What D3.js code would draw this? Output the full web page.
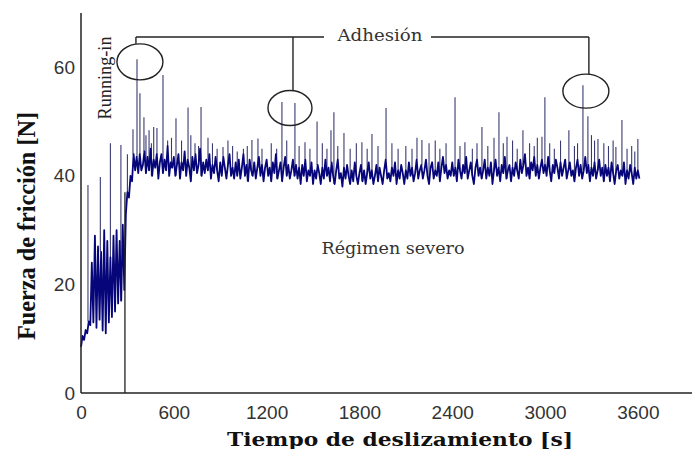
<!DOCTYPE html>
<html>
  <head>
    <meta charset="utf-8">
    <title>Fuerza de fricción</title>
    <script src="https://d3js.org/d3.v7.min.js"></script>
    <style>
      body { margin: 0; background: #fff; }
      svg { display: block; }
    </style>
  </head>
  <body>
    <div id="chart"></div>
    <script>
      // friction force, one reading every 10 s (0 .. 3610 s)
      var step = 10;
      var force = [
        8.5, 10.5, 9.8, 11.6, 11, 13.2, 12.5, 24, 13, 29, 12, 27, 13.5, 26, 11.5, 30, 11, 28, 13, 25,
        14, 29, 15, 30, 16.5, 28, 17, 31, 19, 33, 37, 36, 40, 39, 44, 41, 43.5, 40.5, 44, 41,
        42, 44.5, 40.5, 43.5, 41, 45, 40, 43, 41.5, 44, 39.5, 42.5, 44, 40.5, 43, 41, 45.5, 40, 42.5, 41.5,
        43.5, 40, 42, 44, 39.5, 42.5, 41, 44.5, 40, 43, 41.5, 39, 43.5, 41, 44, 40.5, 42, 45, 40, 42.5,
        40.5, 43, 41, 44, 39.5, 42, 40.5, 43.5, 41, 39, 42.5, 40, 43.5, 41.5, 39.5, 42, 44, 40, 41.5, 39.5,
        42.5, 40, 43, 39.5, 41.5, 44, 40, 42, 39, 43, 41, 40, 42.5, 39.5, 41.5, 43.5, 40, 42, 39, 41.5,
        43, 40, 41.5, 39, 42.5, 40.5, 44, 39.5, 41, 42.5, 39, 41.5, 43.5, 40, 42, 39.5, 41, 43, 40, 42,
        39.5, 41.5, 38.5, 42, 40, 43, 39, 41, 40, 42.5, 38.5, 41, 39.5, 42, 40.5, 38.5, 41.5, 39.5, 43, 40,
        41.5, 39, 42.5, 40, 38.5, 41, 43, 39.5, 40.5, 38, 41.5, 39.5, 42, 40, 38.5, 41, 39, 42.5, 40, 38.5,
        40.5, 42, 39, 41, 38.5, 40.5, 42.5, 39.5, 41, 38.5, 40, 42, 39, 41.5, 40, 38.5, 41, 43, 39.5, 40.5,
        39, 41.5, 40, 42.5, 38.5, 41, 39.5, 42, 40.5, 38.5, 41, 39.5, 42.5, 40, 41.5, 39, 40.5, 43, 39.5, 41,
        42, 39.5, 41, 43, 40, 38.5, 41.5, 42.5, 39.5, 41, 40, 42.5, 39, 41.5, 43.5, 40.5, 42, 39.5, 41, 40,
        42.5, 40, 41.5, 39, 43, 41, 39.5, 42, 40.5, 43.5, 39.5, 41, 42.5, 40, 38.5, 41.5, 43, 40, 41.5, 39.5,
        41, 43, 39.5, 41.5, 40, 42.5, 38.5, 41, 43, 40, 41.5, 39, 42, 40.5, 43.5, 39.5, 41, 42, 39, 41.5,
        40, 42.5, 41, 39.5, 43, 40.5, 42, 44, 40, 41.5, 39.5, 42.5, 41, 43.5, 40, 42, 39.5, 41.5, 43, 40.5,
        42, 40, 43.5, 41, 39, 42, 40.5, 43, 41.5, 39.5, 42.5, 40, 41.5, 43, 39.5, 41, 42.5, 40, 41, 39,
        41.5, 43, 40, 42, 39.5, 41, 43.5, 40.5, 42, 39, 41.5, 40, 42.5, 39.5, 41, 43, 40, 41.5, 39, 42,
        40, 41.5, 39, 42.5, 40.5, 38.5, 41, 42, 39.5, 41, 40, 42.5, 38.5, 41, 39.5, 42, 40.5, 38.5, 41.5, 39.5,
        41, 39.5
      ];
      // single-reading peaks [time s, force N]
      var peaks = [
        [45, 38.3], [125, 39.8], [190, 46], [258, 45.7],
        [336, 48.6], [362, 61.5], [381, 55.2], [407, 50.8], [440, 48.4], [491, 48.8],
        [530, 58.6], [614, 50.6], [692, 52.6], [737, 46], [776, 52.7], [821, 47],
        [918, 45.3], [980, 45.5], [1050, 45], [1105, 46.6], [1144, 46.9], [1299, 53.6],
        [1383, 53.4], [1448, 46.2], [1526, 50], [1616, 48.4], [1635, 51.7], [1700, 47.9],
        [1816, 46.2], [1881, 47.7], [1972, 52.5], [2172, 47], [2204, 46.6], [2360, 46],
        [2418, 54.5], [2482, 46.2], [2592, 49], [2702, 51.7], [2754, 47.2], [2857, 48.4],
        [2980, 47.2], [2999, 54.5], [3154, 48.4], [3245, 56.7], [3277, 51], [3342, 46.8],
        [3458, 45.3], [3497, 50.3], [3600, 46.8]
      ];
      // smaller spikes riding on the band
      var minorPeaks = [
        [300, 44], [420, 47.5], [455, 46], [470, 49], [560, 46.5], [585, 47], [650, 46.5],
        [710, 47.5], [760, 45.5], [850, 46], [880, 45], [950, 46.5], [1010, 44.5], [1075, 45.5],
        [1170, 45], [1230, 46], [1265, 45], [1330, 46.5], [1410, 45.5], [1480, 45], [1560, 46],
        [1590, 45], [1660, 45.5], [1740, 45], [1780, 46], [1850, 45], [1920, 45.5], [2010, 46],
        [2050, 45], [2100, 45.5], [2140, 45], [2250, 46], [2290, 46.5], [2320, 45], [2450, 45.5],
        [2530, 45], [2560, 46], [2630, 45.5], [2670, 47], [2730, 46], [2790, 46.5], [2820, 45],
        [2900, 46], [2930, 45.5], [2950, 47], [3030, 46], [3060, 45], [3100, 46.5], [3190, 45.5],
        [3210, 46], [3300, 47.5], [3320, 46.5], [3380, 46], [3410, 45.5], [3440, 46.5], [3530, 45],
        [3560, 45.5], [3580, 44.5]
      ];
      var xTicks = [0, 600, 1200, 1800, 2400, 3000, 3600];
      var yTicks = [0, 20, 40, 60];
      var runInEnd = 284;
      // adhesion marks: circle centre [time, force]
      var adhesion = [[381, 61], [1351, 52.5], [3264, 55.6]];

      var width = 692, height = 449;
      var svg = d3.select("#chart").append("svg")
        .attr("width", width)
        .attr("height", height);

      var x = d3.scaleLinear().domain([0, 3950]).range([81, 692]);
      var y = d3.scaleLinear().domain([0, 70]).range([393, 13]);

      var readings = force.map(function(v, i) { return [i * step, v]; });

      var line = d3.line()
        .x(function(d) { return x(d[0]); })
        .y(function(d) { return y(d[1]); });

      // thin spikes, from the nearest regular reading up to the peak value
      svg.append("g")
        .selectAll("line")
        .data(peaks.concat(minorPeaks))
        .join("line")
          .attr("x1", function(d) { return x(d[0]); })
          .attr("x2", function(d) { return x(d[0]); })
          .attr("y1", function(d) { return y(force[Math.round(d[0] / step)]); })
          .attr("y2", function(d) { return y(d[1]); })
          .attr("stroke", "#3a3a72")
          .attr("stroke-width", 1.1);

      // main signal
      svg.append("path")
        .datum(readings)
        .attr("d", line)
        .attr("fill", "none")
        .attr("stroke", "#06067a")
        .attr("stroke-width", 1.8)
        .attr("stroke-linejoin", "round");

      // running-in limit
      svg.append("line")
        .attr("x1", x(runInEnd)).attr("x2", x(runInEnd))
        .attr("y1", y(0)).attr("y2", y(37))
        .attr("stroke", "#222").attr("stroke-width", 1.3);

      // axes (no tick marks, just line + labels)
      var xAxis = d3.axisBottom(x).tickValues(xTicks).tickFormat(d3.format("d")).tickSize(0).tickPadding(10);
      var gx = svg.append("g").attr("transform", "translate(0," + y(0) + ")").call(xAxis);
      var yAxis = d3.axisLeft(y).tickValues(yTicks).tickFormat(d3.format("d")).tickSize(0).tickPadding(6);
      var gy = svg.append("g").attr("transform", "translate(" + x(0) + ",0)").call(yAxis);
      gx.select(".domain").attr("d", "M" + x(0) + ",0H" + width).attr("stroke", "#222").attr("stroke-width", 1.5);
      gy.select(".domain").attr("d", "M0," + y(0) + "V" + y(70)).attr("stroke", "#222").attr("stroke-width", 1.5);
      svg.selectAll(".tick text")
        .attr("fill", "#333")
        .style("font-family", "'Liberation Sans', Arial, sans-serif")
        .style("font-size", "19px");
      gx.selectAll(".tick text").attr("dy", "0.85em");

      // axis titles
      svg.append("text")
        .attr("x", 400).attr("y", 446)
        .attr("text-anchor", "middle")
        .attr("textLength", 346).attr("lengthAdjust", "spacingAndGlyphs")
        .style("font-family", "'DejaVu Serif', serif")
        .style("font-weight", "bold").style("font-size", "19px")
        .attr("fill", "#111")
        .text("Tiempo de deslizamiento [s]");
      svg.append("text")
        .attr("transform", "translate(35,226) rotate(-90)")
        .attr("text-anchor", "middle")
        .attr("textLength", 228).attr("lengthAdjust", "spacingAndGlyphs")
        .style("font-family", "'Liberation Serif', 'Times New Roman', serif")
        .style("font-weight", "bold").style("font-size", "25px")
        .attr("fill", "#111")
        .text("Fuerza de fricción [N]");

      // annotations
      svg.append("text")
        .attr("transform", "translate(111,78) rotate(-90)")
        .attr("text-anchor", "middle")
        .attr("textLength", 83).attr("lengthAdjust", "spacingAndGlyphs")
        .style("font-family", "'Liberation Serif', 'Times New Roman', serif")
        .style("font-size", "18px")
        .attr("fill", "#222")
        .text("Running-in");

      svg.append("text")
        .attr("x", 393).attr("y", 254)
        .attr("text-anchor", "middle")
        .attr("textLength", 143).attr("lengthAdjust", "spacingAndGlyphs")
        .style("font-family", "'DejaVu Serif', serif")
        .style("font-size", "16px")
        .attr("fill", "#333")
        .text("Régimen severo");

      var bracketY = 37;
      var ann = svg.append("g")
        .attr("fill", "none")
        .attr("stroke", "#222")
        .attr("stroke-width", 1.4);
      var rx = [23, 22, 23], ry = [18, 17.5, 17];
      adhesion.forEach(function(c, i) {
        var cx = x(c[0]), cy = y(c[1]);
        ann.append("ellipse")
          .attr("cx", cx).attr("cy", cy)
          .attr("rx", rx[i]).attr("ry", ry[i]);
        // drop from bracket to top of circle
        var dx = i === 0 ? cx - 4 : cx + 3;
        ann.append("line")
          .attr("x1", dx).attr("x2", dx)
          .attr("y1", bracketY).attr("y2", cy - ry[i]);
      });
      var left = x(adhesion[0][0]) - 4, right = x(adhesion[2][0]) + 3;
      ann.append("line").attr("x1", left).attr("x2", 324).attr("y1", bracketY).attr("y2", bracketY);
      ann.append("line").attr("x1", 431).attr("x2", right).attr("y1", bracketY).attr("y2", bracketY);
      svg.append("text")
        .attr("x", 380).attr("y", 41)
        .attr("text-anchor", "middle")
        .attr("textLength", 85).attr("lengthAdjust", "spacingAndGlyphs")
        .style("font-family", "'DejaVu Serif', serif")
        .style("font-size", "16px")
        .attr("fill", "#333")
        .text("Adhesión");
    </script>
  </body>
</html>
